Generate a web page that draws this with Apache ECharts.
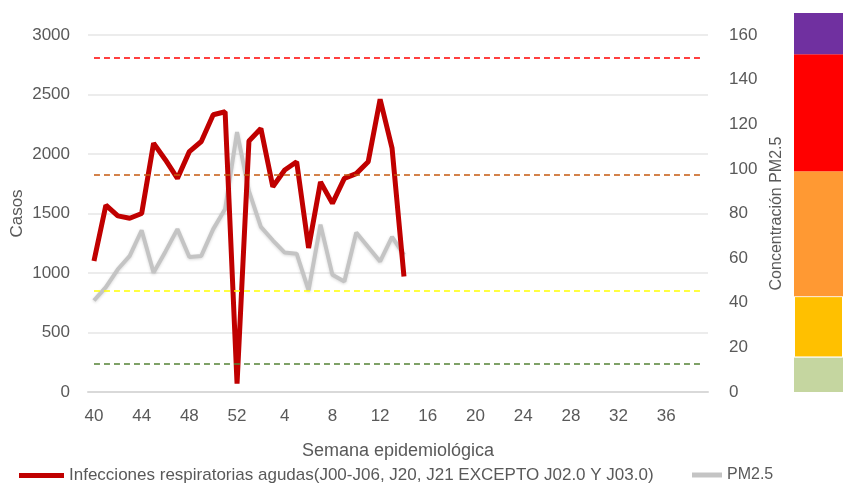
<!DOCTYPE html>
<html>
<head>
<meta charset="utf-8">
<script src="https://cdn.jsdelivr.net/npm/echarts@6/dist/echarts.min.js"></script>
<style>
  html, body { margin: 0; padding: 0; background: #fff; }
  #chart { width: 846px; height: 483px; }
</style>
</head>
<body>
<div id="chart"></div>
<script>
// epidemiological weeks, 40..52 then 1..39
const weeks = ['40','41','42','43','44','45','46','47','48','49','50','51','52',
  '1','2','3','4','5','6','7','8','9','10','11','12','13','14','15','16','17','18','19','20',
  '21','22','23','24','25','26','27','28','29','30','31','32','33','34','35','36','37','38','39'];

const ira = [1100, 1570, 1480, 1460, 1500, 2090, 1950, 1795, 2020, 2105, 2330, 2355, 70,
  2110, 2215, 1725, 1865, 1935, 1210, 1765, 1585, 1795, 1835, 1935, 2460, 2050, 970];

const pm25 = [41, 47, 55, 61, 72.5, 53.5, 63, 73, 60.5, 61, 73, 82, 116.5,
  90, 74, 68, 62.5, 62, 45.5, 75, 52.5, 49.5, 71.5, 65, 58.5, 69.5, 61.5];

// PM2.5 threshold lines (right axis)
const thresholds = [150, 97.5, 45.5, 12.5];
const thresholdColors = ['#FF0000', '#C55A11', '#FFFF00', '#548235'];

// colour scale column at the right, band heights in PM2.5 units
const bandSizes = [15.5, 27.5, 56, 52.5, 18.5];
const bandColors = ['#C5D6A0', '#FFC000', '#FF9933', '#FF0000', '#7030A0'];

const chart = echarts.init(document.getElementById('chart'));

const font = 'Liberation Sans, Arial, sans-serif';
const txt = '#595959';

chart.setOption({
  animation: false,
  textStyle: { fontFamily: font },
  grid: [
    { left: 88, right: 138, top: 35, bottom: 91, outerBoundsMode: 'none', containLabel: false },
    { left: 794, width: 49, top: 13, bottom: 91, outerBoundsMode: 'none', containLabel: false }
  ],
  legend: [
    {
      left: 19, top: 467, padding: 0,
      itemWidth: 45, itemHeight: 5, itemGap: 4,
      icon: 'rect',
      data: ['Infecciones respiratorias agudas(J00-J06, J20, J21 EXCEPTO J02.0 Y J03.0)'],
      textStyle: { color: txt, fontSize: 17, fontFamily: font }
    },
    {
      left: 692, top: 467, padding: 0,
      itemWidth: 30, itemHeight: 5, itemGap: 4,
      icon: 'rect',
      data: ['PM2.5'],
      textStyle: { color: txt, fontSize: 16, fontFamily: font }
    }
  ],
  xAxis: [
    {
      type: 'category',
      data: weeks,
      gridIndex: 0,
      boundaryGap: true,
      axisLine: { lineStyle: { color: '#D9D9D9', width: 2 } },
      axisTick: { show: false },
      axisLabel: { interval: 3, color: txt, fontSize: 17, margin: 16 },
      name: 'Semana epidemiológica',
      nameLocation: 'middle',
      nameGap: 50,
      nameTextStyle: { color: txt, fontSize: 18 }
    },
    {
      type: 'category',
      data: ['escala'],
      gridIndex: 1,
      show: false
    }
  ],
  yAxis: [
    {
      type: 'value',
      gridIndex: 0,
      min: 0, max: 3000, interval: 500,
      axisLine: { show: false },
      axisTick: { show: false },
      axisLabel: { color: txt, fontSize: 17, margin: 18, formatter: v => String(v) },
      splitLine: { lineStyle: { color: '#E6E6E6', width: 1.5 } },
      name: 'Casos',
      nameLocation: 'middle',
      nameGap: 71,
      nameMoveOverlap: false,
      nameRotate: 90,
      nameTextStyle: { color: txt, fontSize: 17, verticalAlign: 'middle' }
    },
    {
      type: 'value',
      gridIndex: 0,
      position: 'right',
      min: 0, max: 160, interval: 20,
      axisLine: { show: false },
      axisTick: { show: false },
      splitLine: { show: false },
      axisLabel: { color: txt, fontSize: 17, margin: 21 },
      name: 'Concentración PM2.5',
      nameLocation: 'middle',
      nameGap: 60,
      nameRotate: 90,
      nameTextStyle: { color: txt, fontSize: 16 }
    },
    {
      type: 'value',
      gridIndex: 1,
      min: 0, max: 170,
      show: false
    }
  ],
  series: [
    {
      name: 'PM2.5',
      type: 'line',
      xAxisIndex: 0,
      yAxisIndex: 1,
      data: pm25,
      symbol: 'none',
      color: '#C4C4C4',
      lineStyle: { width: 4, color: '#C4C4C4', shadowColor: 'rgba(0,0,0,0.15)', shadowBlur: 3, shadowOffsetY: 1 },
      z: 2,
      markLine: {
        silent: true,
        symbol: 'none',
        label: { show: false },
        data: thresholds.map((v, i) => [
          { coord: ['40', v], lineStyle: { color: thresholdColors[i], type: [6, 4], width: 1.5 } },
          { coord: ['39', v] }
        ])
      }
    },
    {
      name: 'Infecciones respiratorias agudas(J00-J06, J20, J21 EXCEPTO J02.0 Y J03.0)',
      type: 'line',
      xAxisIndex: 0,
      yAxisIndex: 0,
      data: ira,
      symbol: 'none',
      color: '#C00000',
      lineStyle: { width: 5, color: '#C00000' },
      z: 3
    },
    ...bandSizes.map((v, i) => ({
      type: 'bar',
      xAxisIndex: 1,
      yAxisIndex: 2,
      stack: 'escala',
      barWidth: '100%',
      data: [v],
      itemStyle: { color: bandColors[i], borderColor: i === 1 ? '#fff' : bandColors[i], borderWidth: i === 1 ? 1 : 0 },
      silent: true
    }))
  ]
});
</script>
</body>
</html>
